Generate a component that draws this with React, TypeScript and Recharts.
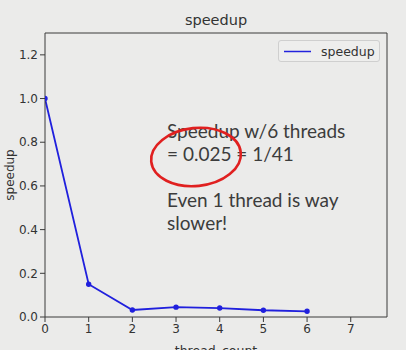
import React from 'react';
import { LineChart, Line, XAxis, YAxis, Legend, Customized, ReferenceLine } from 'recharts';

const threadCounts = [0, 1, 2, 3, 4, 5, 6];
const speedupValues = [1.0, 0.15, 0.032, 0.045, 0.041, 0.031, 0.026];
const xTicks = [0, 1, 2, 3, 4, 5, 6, 7];
const yTicks = [0, 0.2, 0.4, 0.6, 0.8, 1.0, 1.2];
const xMax = 7.83;
const yMax = 1.3;
const titleText = 'speedup';
const noteLines = ['Speedup w/6 threads', '= 0.025 = 1/41', '', 'Even 1 thread is way', 'slower!'];

const data = threadCounts.map((t, i) => ({ t, speedup: speedupValues[i] }));

const BG = '#ebebea';
const AX = '#3a3a3a';
const FONT = '"DejaVu Sans", sans-serif';
const NOTE_FONT = 'Lato, "Open Sans", sans-serif';

const Overlay = () => (
  <g>
    <text x={216} y={25} textAnchor="middle" fontFamily={FONT} fontSize={14.5} fill="#333">{titleText}</text>
    <text transform="translate(14,175) rotate(-90)" textAnchor="middle" fontFamily={FONT} fontSize={12} fill="#333">speedup</text>
    <text x={216} y={355} textAnchor="middle" fontFamily={FONT} fontSize={12.5} fill="#333">thread_count</text>
    {noteLines.map((l, i) => (
      <text key={i} x={167} y={138 + i * 23} fontFamily={NOTE_FONT} fontSize={19} fill="#3c3c3c">{l}</text>
    ))}
    <ellipse cx={196} cy={157} rx={45} ry={29} fill="none" stroke="#e02020" strokeWidth={2.6} transform="rotate(-6 196 157)" />
  </g>
);

const LegendBox = () => (
  <div style={{ position: 'absolute', left: 278, top: 40, width: 102, height: 22, border: '1px solid #cfcfcf', borderRadius: 3, background: '#eeeeed', boxSizing: 'border-box' }}>
    <svg width={102} height={22} style={{ position: 'absolute', left: 0, top: 0 }}>
      <line x1={5} x2={32} y1={10.5} y2={10.5} stroke="#2222dd" strokeWidth={1.5} />
      <text x={42} y={15} fontFamily={FONT} fontSize={12.5} fill="#333">speedup</text>
    </svg>
  </div>
);

export default function App() {
  return (
    <div style={{ position: 'absolute', left: 0, top: 0, width: 406, height: 350, background: BG, overflow: 'hidden' }}>
      <LineChart width={406} height={350} data={data} margin={{ top: 33, right: 19, bottom: 8, left: 10 }}>
        <XAxis
          xAxisId="b"
          dataKey="t"
          type="number"
          domain={[0, xMax]}
          ticks={xTicks}
          allowDataOverflow
          height={25}
          stroke={AX}
          tickSize={5}
          tick={{ fill: '#333', fontSize: 12, fontFamily: FONT }}
          axisLine={{ stroke: AX, strokeWidth: 1 }}
          tickLine={{ stroke: AX }}
        />
        <YAxis
          yAxisId="l"
          type="number"
          domain={[0, yMax]}
          ticks={yTicks}
          width={35}
          tickSize={5}
          allowDataOverflow
          tickFormatter={(v: number) => v.toFixed(1)}
          tick={{ fill: '#333', fontSize: 12, fontFamily: FONT }}
          axisLine={{ stroke: AX }}
          tickLine={{ stroke: AX }}
        />
        <ReferenceLine xAxisId="b" yAxisId="l" y={yMax} stroke={AX} strokeWidth={1} ifOverflow="extendDomain" />
        <ReferenceLine xAxisId="b" yAxisId="l" x={xMax} stroke={AX} strokeWidth={1} ifOverflow="extendDomain" />
        <Legend content={() => <LegendBox />} wrapperStyle={{ position: 'absolute', left: 0, top: 0, width: 0, height: 0 }} />
        <Line
          xAxisId="b"
          yAxisId="l"
          dataKey="speedup"
          name="speedup"
          stroke="#2020dd"
          strokeWidth={1.8}
          dot={{ r: 1.8, fill: '#2020dd', stroke: '#2020dd' }}
          isAnimationActive={false}
        />
        <Customized component={Overlay} />
      </LineChart>
    </div>
  );
}
